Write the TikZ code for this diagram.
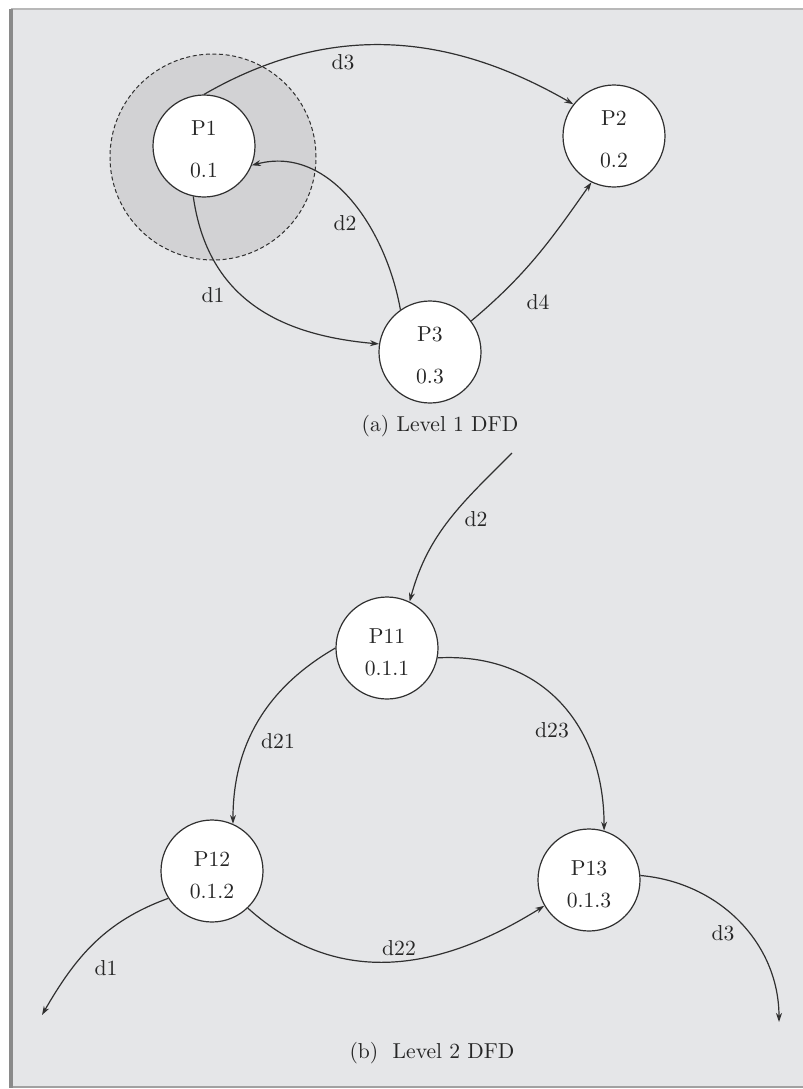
\documentclass[tikz,border=0pt]{standalone}
\usetikzlibrary{arrows.meta,calc}
\definecolor{bgc}{HTML}{E5E6E8}
\definecolor{shadec}{HTML}{D2D2D4}
\definecolor{linec}{HTML}{303030}
\definecolor{frameL}{HTML}{8A8A8A}
\definecolor{frameT}{HTML}{B8B8B8}
\begin{document}
\begin{tikzpicture}[x=0.5pt,y=0.5pt,
  proc/.style={circle,draw=linec,line width=0.6pt,fill=white,minimum size=51pt,inner sep=0pt},
  txt/.style={font=\fontsize{10.8}{12}\selectfont,text=black!85,inner sep=1pt},
  flow/.style={draw=linec,line width=0.6pt,-{Stealth[length=4.5pt,width=3pt]}},
  zone/.style={circle,draw=linec,dashed,dash pattern=on 2pt off 1.3pt,line width=0.5pt,fill=shadec,minimum size=103pt,inner sep=0pt}
]
\useasboundingbox (0,0) rectangle (803,-1089);
% frame
\fill[white] (0,0) rectangle (803,-1089);
\fill[bgc] (11,-9) rectangle (803,-1087);
\draw[frameT,line width=0.6pt] (11,-9) -- (803,-9);
\draw[frameL!80,line width=0.9pt] (11,-1087) -- (803,-1087);
\draw[frameL,line width=2pt] (11,-9) -- (11,-1088);

% ---------- Level 1 ----------
\node[zone] (Z) at (213,-157) {};
\node[proc] (P1) at (204,-146) {};
\node[proc] (P2) at (614,-136) {};
\node[proc] (P3) at (430,-352) {};
\node[txt] (P1a) at ($(P1)+(0,18)$) {P1};
\node[txt] (P1b) at ($(P1)+(0,-25)$) {0.1};
\node[txt] (P2a) at ($(P2)+(0,18)$) {P2};
\node[txt] (P2b) at ($(P2)+(0,-25)$) {0.2};
\node[txt] (P3a) at ($(P3)+(0,18)$) {P3};
\node[txt] (P3b) at ($(P3)+(0,-25)$) {0.3};

\draw[flow] (P1.90) to[out=30,in=150] (P2.142);
\draw[flow] (P3.125) to[out=100,in=15] (P1.338);
\draw[flow] (P1.258) to[out=-82,in=175,looseness=1.1] (P3.171);
\draw[flow] (P3.37) to[out=40,in=235] (P2.244);

\node[txt] (l3) at (343,-62) {d3};
\node[txt] (l2) at (345,-223) {d2};
\node[txt] (l1) at (213,-295) {d1};
\node[txt] (l4) at (538,-302) {d4};
\node[txt] (capa) at (440,-426) {(a) Level 1 DFD};

% ---------- Level 2 ----------
\node[proc] (P11) at (387,-648) {};
\node[proc] (P12) at (212,-871) {};
\node[proc] (P13) at (589,-880) {};
\node[txt] (P11a) at ($(P11)+(0,12)$) {P11};
\node[txt] (P11b) at ($(P11)+(0,-21)$) {0.1.1};
\node[txt] (P12a) at ($(P12)+(0,12)$) {P12};
\node[txt] (P12b) at ($(P12)+(0,-21)$) {0.1.2};
\node[txt] (P13a) at ($(P13)+(0,12)$) {P13};
\node[txt] (P13b) at ($(P13)+(0,-21)$) {0.1.3};

\coordinate (in2) at (512,-453);
\coordinate (out1) at (42,-1015);
\coordinate (out3) at (779,-1022);

\draw[flow] (in2) to[out=225,in=75] (P11.64);
\draw[flow] (P11.180) to[out=210,in=90] (P12.66);
\draw[flow] (P11.-11) to[out=3,in=90,looseness=1.12] (P13.73);
\draw[flow] (P12.-46) to[out=-42,in=212,looseness=1.05] (P13.210);
\draw[flow] (P12.212) to[out=200,in=60] (out1);
\draw[flow] (P13.5) to[out=-5,in=90] (out3);

\node[txt] (m2) at (476,-519) {d2};
\node[txt] (m21) at (278,-741) {d21};
\node[txt] (m23) at (552,-730) {d23};
\node[txt] (m22) at (399,-948) {d22};
\node[txt] (m1) at (106,-968) {d1};
\node[txt] (m3) at (723,-933) {d3};
\node[txt] (capb) at (432,-1053) {(b)\ \ Level 2 DFD};
\end{tikzpicture}
\end{document}
